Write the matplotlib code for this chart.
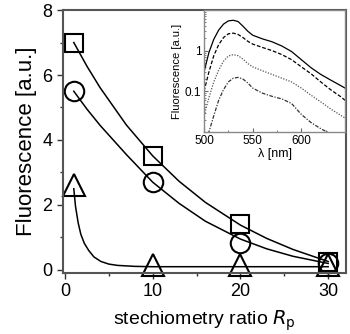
import matplotlib
matplotlib.use("Agg")
import matplotlib.pyplot as plt
from matplotlib.ticker import MultipleLocator, LogLocator, NullFormatter

plt.rcParams['font.family'] = ['Liberation Sans', 'DejaVu Sans']

# measured points
rp = [1, 10, 20, 30]
sq_y = [7.0, 3.5, 1.4, 0.25]
ci_y = [5.5, 2.7, 0.82, 0.2]
tr_y = [2.6, 0.15, 0.15, 0.15]

# fitted curves
fit_x = [1, 2.5, 4, 7, 10, 13, 16, 20, 23, 26, 30]
sq_fit = [7.0, 6.27, 5.61, 4.46, 3.51, 2.73, 2.08, 1.38, 0.97, 0.63, 0.26]
ci_fit = [5.5, 4.95, 4.45, 3.55, 2.7, 2.05, 1.5, 0.95, 0.65, 0.42, 0.2]
tr_fit_x = [1, 1.2, 1.5, 1.8, 2.2, 2.7, 3.3, 4.1, 5, 6, 8, 10, 15, 20, 30]
tr_fit = [2.5, 1.95, 1.45, 1.1, 0.82, 0.6, 0.4, 0.26, 0.18, 0.14, 0.11, 0.1, 0.1, 0.1, 0.1]

# inset spectra
wl = [500, 505, 510, 515, 520, 525, 530, 535, 540, 545, 550, 560, 570, 580,
      590, 600, 610, 620, 630, 640, 645]
spec1 = [0.30, 0.9, 1.9, 3.2, 4.5, 5.4, 5.6, 5.2, 4.0, 3.0, 2.4, 1.95, 1.65, 1.3,
         0.95, 0.6, 0.38, 0.26, 0.19, 0.14, 0.12]
spec2 = [0.10, 0.3, 0.75, 1.4, 2.1, 2.6, 2.7, 2.5, 2.1, 1.7, 1.45, 1.2, 1.0, 0.8,
         0.6, 0.4, 0.27, 0.17, 0.11, 0.075, 0.06]
spec3 = [0.025, 0.07, 0.17, 0.33, 0.55, 0.74, 0.8, 0.75, 0.62, 0.48, 0.4, 0.32, 0.26, 0.21,
         0.17, 0.12, 0.08, 0.055, 0.037, 0.026, 0.022]
spec4 = [0.006, 0.01, 0.025, 0.06, 0.11, 0.17, 0.21, 0.22, 0.2, 0.16, 0.12, 0.09, 0.075, 0.065,
         0.05, 0.027, 0.017, 0.012, 0.009, 0.007, 0.006]

fig = plt.figure(figsize=(3.5, 3.34), dpi=100)
ax = fig.add_axes([0.18, 0.183, 0.809, 0.787])

ax.plot(fit_x, sq_fit, color='black', lw=1.1)
ax.plot(fit_x, ci_fit, color='black', lw=1.1)
ax.plot(tr_fit_x, tr_fit, color='black', lw=1.1)
ax.plot(rp, sq_y, 's', ms=13, mfc='none', mec='black', mew=1.5, clip_on=False)
ax.plot(rp, ci_y, 'o', ms=14, mfc='none', mec='black', mew=1.5, clip_on=False)
ax.plot(rp, tr_y, '^', ms=16, mfc='none', mec='black', mew=1.5, clip_on=False)

ax.set_xlim(-0.23, 32.05)
ax.set_ylim(-0.09, 8)
ax.xaxis.set_major_locator(MultipleLocator(10))
ax.xaxis.set_minor_locator(MultipleLocator(5))
ax.yaxis.set_major_locator(MultipleLocator(2))
ax.yaxis.set_minor_locator(MultipleLocator(1))
ax.tick_params(which='both', direction='out', labelsize=13, width=1.0, color='#333')
ax.tick_params(which='major', length=4)
ax.tick_params(which='minor', length=2.5)
for s in ax.spines.values():
    s.set_color('#555')
    s.set_linewidth(1.5)
ax.set_ylabel('Fluorescence [a.u.]', fontsize=16, labelpad=4)
ax.set_xlabel('stechiometry ratio $R_\\mathrm{p}$', fontsize=14, labelpad=6)

# inset
ins = fig.add_axes([0.583, 0.605, 0.403, 0.365])
ins.plot(wl, spec1, color='black', lw=0.9)
ins.plot(wl, spec2, color='black', lw=0.9, ls=(0, (3, 1.5)))
ins.plot(wl, spec3, color='#555', lw=0.9, ls=(0, (1, 1.2)))
ins.plot(wl, spec4, color='#333', lw=0.9, ls=(0, (3, 1.2, 1, 1.2)))
ins.set_yscale('log')
ins.set_xlim(500, 645)
ins.set_ylim(0.01, 10)
ins.set_xticks([500, 550, 600])
ins.xaxis.set_minor_locator(MultipleLocator(25))
ins.set_yticks([0.1, 1])
ins.set_yticklabels(['0.1', '1'])
ins.yaxis.set_minor_locator(LogLocator(subs=range(2, 10)))
ins.yaxis.set_minor_formatter(NullFormatter())
ins.tick_params(which='both', direction='in', labelsize=8.5, color='#666', pad=2)
ins.tick_params(which='major', length=3)
ins.tick_params(which='minor', length=1.5)
for s in ins.spines.values():
    s.set_color('#888')
    s.set_linewidth(1.0)
ins.set_ylabel('Fluorescence [a.u.]', fontsize=8, labelpad=2)
ins.set_xlabel('λ [nm]', fontsize=9, labelpad=1)

fig.savefig('out.png', dpi=100)
